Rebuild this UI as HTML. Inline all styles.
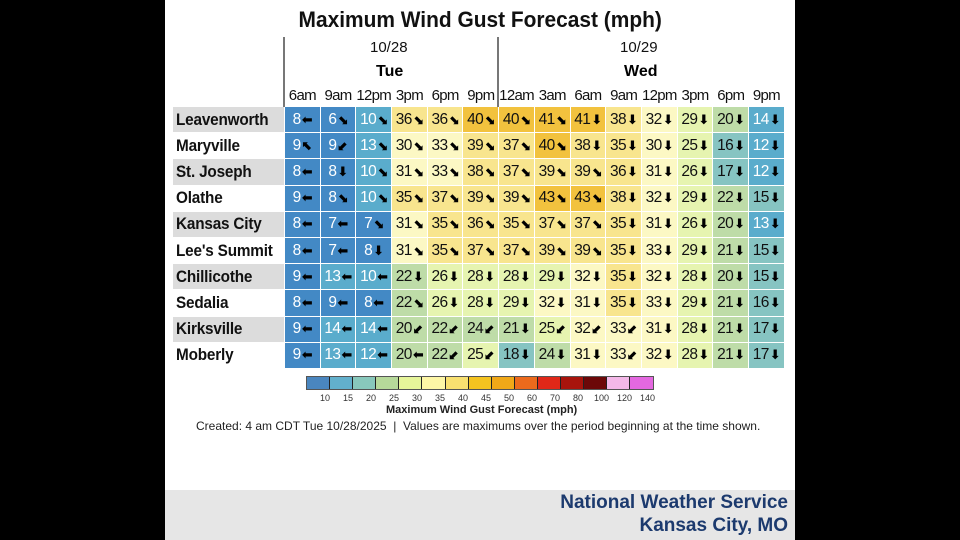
<!DOCTYPE html>
<html><head><meta charset="utf-8"><style>
body{margin:0;background:#000;width:960px;height:540px;overflow:hidden;font-family:"Liberation Sans",sans-serif;}
#p{position:absolute;left:165px;top:0;width:630px;height:540px;background:#fff;}
.a{position:absolute;white-space:nowrap;}
table{position:absolute;left:172px;top:84px;border-collapse:collapse;}
td{height:25.2px;border:1px solid #fff;padding:0;font-size:15.5px;text-align:center;color:#111;width:34.7px;letter-spacing:-0.6px;white-space:nowrap}
td.h{height:21px;font-size:15px;letter-spacing:-0.7px;border-color:transparent;color:#111}
td.n{width:108px;text-align:left;font-weight:bold;font-size:17px;padding-left:3px;letter-spacing:-0.2px}
td.n span{display:inline-block;transform:scaleX(0.9);transform-origin:left center}
td.n.g{background:#dcdcdc}
td i{font-style:normal;font-family:"DejaVu Sans",sans-serif;font-size:13px;color:#000;font-weight:bold;margin-left:1px}
.b1{background:#4389c5;color:#fff}.b2{background:#5aaccc;color:#fff}.b3{background:#86c4c2}
.g1{background:#bedca8}.g2{background:#e6f4b0}.y1{background:#fcf8c4}.y2{background:#f8e58e}.o1{background:#f2c23e}
.hd{font-size:15px;color:#111}
#cb{position:absolute;left:306px;top:376px;height:12px;display:flex;border:1px solid #555}
#cb div{width:23.1px;height:12px;border-right:1px solid #222;box-sizing:border-box}
.ln{z-index:2}
</style></head><body><div id="p"></div>
<div class="a" style="left:0;width:960px;text-align:center;top:7px;font-size:22px;font-weight:bold;color:#111"><span style="display:inline-block;transform:scaleX(0.95)">Maximum Wind Gust Forecast (mph)</span></div>
<div class="a hd" style="left:370px;top:39px">10/28</div>
<div class="a hd" style="left:620px;top:39px">10/29</div>
<div class="a" style="left:376px;top:63px;font-weight:bold;font-size:16px">Tue</div>
<div class="a" style="left:624px;top:63px;font-weight:bold;font-size:16px">Wed</div>
<table>
<tr><td class="h" style="width:111px"></td><td class="h">6am</td><td class="h">9am</td><td class="h">12pm</td><td class="h">3pm</td><td class="h">6pm</td><td class="h">9pm</td><td class="h">12am</td><td class="h">3am</td><td class="h">6am</td><td class="h">9am</td><td class="h">12pm</td><td class="h">3pm</td><td class="h">6pm</td><td class="h">9pm</td></tr>
<tr><td class="n g"><span>Leavenworth</span></td><td class="b1">8<i>⬅</i></td><td class="b1">6<i>⬊</i></td><td class="b2">10<i>⬊</i></td><td class="y2">36<i>⬊</i></td><td class="y2">36<i>⬊</i></td><td class="o1">40<i>⬊</i></td><td class="o1">40<i>⬊</i></td><td class="o1">41<i>⬊</i></td><td class="o1">41<i>⬇</i></td><td class="y2">38<i>⬇</i></td><td class="y1">32<i>⬇</i></td><td class="g2">29<i>⬇</i></td><td class="g1">20<i>⬇</i></td><td class="b2">14<i>⬇</i></td></tr>
<tr><td class="n"><span>Maryville</span></td><td class="b1">9<i>⬉</i></td><td class="b1">9<i>⬋</i></td><td class="b2">13<i>⬊</i></td><td class="y1">30<i>⬊</i></td><td class="y1">33<i>⬊</i></td><td class="y2">39<i>⬊</i></td><td class="y2">37<i>⬊</i></td><td class="o1">40<i>⬊</i></td><td class="y2">38<i>⬇</i></td><td class="y2">35<i>⬇</i></td><td class="y1">30<i>⬇</i></td><td class="g2">25<i>⬇</i></td><td class="b3">16<i>⬇</i></td><td class="b2">12<i>⬇</i></td></tr>
<tr><td class="n g"><span>St. Joseph</span></td><td class="b1">8<i>⬅</i></td><td class="b1">8<i>⬇</i></td><td class="b2">10<i>⬊</i></td><td class="y1">31<i>⬊</i></td><td class="y1">33<i>⬊</i></td><td class="y2">38<i>⬊</i></td><td class="y2">37<i>⬊</i></td><td class="y2">39<i>⬊</i></td><td class="y2">39<i>⬊</i></td><td class="y2">36<i>⬇</i></td><td class="y1">31<i>⬇</i></td><td class="g2">26<i>⬇</i></td><td class="b3">17<i>⬇</i></td><td class="b2">12<i>⬇</i></td></tr>
<tr><td class="n"><span>Olathe</span></td><td class="b1">9<i>⬅</i></td><td class="b1">8<i>⬊</i></td><td class="b2">10<i>⬊</i></td><td class="y2">35<i>⬊</i></td><td class="y2">37<i>⬊</i></td><td class="y2">39<i>⬊</i></td><td class="y2">39<i>⬊</i></td><td class="o1">43<i>⬊</i></td><td class="o1">43<i>⬊</i></td><td class="y2">38<i>⬇</i></td><td class="y1">32<i>⬇</i></td><td class="g2">29<i>⬇</i></td><td class="g1">22<i>⬇</i></td><td class="b3">15<i>⬇</i></td></tr>
<tr><td class="n g"><span>Kansas City</span></td><td class="b1">8<i>⬅</i></td><td class="b1">7<i>⬅</i></td><td class="b1">7<i>⬊</i></td><td class="y1">31<i>⬊</i></td><td class="y2">35<i>⬊</i></td><td class="y2">36<i>⬊</i></td><td class="y2">35<i>⬊</i></td><td class="y2">37<i>⬊</i></td><td class="y2">37<i>⬊</i></td><td class="y2">35<i>⬇</i></td><td class="y1">31<i>⬇</i></td><td class="g2">26<i>⬇</i></td><td class="g1">20<i>⬇</i></td><td class="b2">13<i>⬇</i></td></tr>
<tr><td class="n"><span>Lee's Summit</span></td><td class="b1">8<i>⬅</i></td><td class="b1">7<i>⬅</i></td><td class="b1">8<i>⬇</i></td><td class="y1">31<i>⬊</i></td><td class="y2">35<i>⬊</i></td><td class="y2">37<i>⬊</i></td><td class="y2">37<i>⬊</i></td><td class="y2">39<i>⬊</i></td><td class="y2">39<i>⬊</i></td><td class="y2">35<i>⬇</i></td><td class="y1">33<i>⬇</i></td><td class="g2">29<i>⬇</i></td><td class="g1">21<i>⬇</i></td><td class="b3">15<i>⬇</i></td></tr>
<tr><td class="n g"><span>Chillicothe</span></td><td class="b1">9<i>⬅</i></td><td class="b2">13<i>⬅</i></td><td class="b2">10<i>⬅</i></td><td class="g1">22<i>⬇</i></td><td class="g2">26<i>⬇</i></td><td class="g2">28<i>⬇</i></td><td class="g2">28<i>⬇</i></td><td class="g2">29<i>⬇</i></td><td class="y1">32<i>⬇</i></td><td class="y2">35<i>⬇</i></td><td class="y1">32<i>⬇</i></td><td class="g2">28<i>⬇</i></td><td class="g1">20<i>⬇</i></td><td class="b3">15<i>⬇</i></td></tr>
<tr><td class="n"><span>Sedalia</span></td><td class="b1">8<i>⬅</i></td><td class="b1">9<i>⬅</i></td><td class="b1">8<i>⬅</i></td><td class="g1">22<i>⬊</i></td><td class="g2">26<i>⬇</i></td><td class="g2">28<i>⬇</i></td><td class="g2">29<i>⬇</i></td><td class="y1">32<i>⬇</i></td><td class="y1">31<i>⬇</i></td><td class="y2">35<i>⬇</i></td><td class="y1">33<i>⬇</i></td><td class="g2">29<i>⬇</i></td><td class="g1">21<i>⬇</i></td><td class="b3">16<i>⬇</i></td></tr>
<tr><td class="n g"><span>Kirksville</span></td><td class="b1">9<i>⬅</i></td><td class="b2">14<i>⬅</i></td><td class="b2">14<i>⬅</i></td><td class="g1">20<i>⬋</i></td><td class="g1">22<i>⬋</i></td><td class="g1">24<i>⬋</i></td><td class="g1">21<i>⬇</i></td><td class="g2">25<i>⬋</i></td><td class="y1">32<i>⬋</i></td><td class="y1">33<i>⬋</i></td><td class="y1">31<i>⬇</i></td><td class="g2">28<i>⬇</i></td><td class="g1">21<i>⬇</i></td><td class="b3">17<i>⬇</i></td></tr>
<tr><td class="n"><span>Moberly</span></td><td class="b1">9<i>⬅</i></td><td class="b2">13<i>⬅</i></td><td class="b2">12<i>⬅</i></td><td class="g1">20<i>⬅</i></td><td class="g1">22<i>⬋</i></td><td class="g2">25<i>⬋</i></td><td class="b3">18<i>⬇</i></td><td class="g1">24<i>⬇</i></td><td class="y1">31<i>⬇</i></td><td class="y1">33<i>⬋</i></td><td class="y1">32<i>⬇</i></td><td class="g2">28<i>⬇</i></td><td class="g1">21<i>⬇</i></td><td class="b3">17<i>⬇</i></td></tr>
</table>
<div class="a ln" style="left:283px;top:37px;width:1.5px;height:70px;background:#777"></div>
<div class="a ln" style="left:497px;top:37px;width:1.5px;height:70px;background:#777"></div>
<div id="cb"><div style="background:#4a86bf"></div><div style="background:#62b0cc"></div><div style="background:#88c8bc"></div><div style="background:#b6d99a"></div><div style="background:#e6f59a"></div><div style="background:#fdf6a6"></div><div style="background:#f8e070"></div><div style="background:#f4c320"></div><div style="background:#f0a818"></div><div style="background:#ec6a1c"></div><div style="background:#e02818"></div><div style="background:#a8140c"></div><div style="background:#6c0808"></div><div style="background:#f4b8e8"></div><div style="background:#e468e0;border-right:none"></div></div>
<div class="a" style="left:320px;top:393px;font-size:9px;color:#333;word-spacing:0">
<span style="position:absolute;left:0">10</span><span style="position:absolute;left:23px">15</span><span style="position:absolute;left:46px">20</span><span style="position:absolute;left:69px">25</span><span style="position:absolute;left:92px">30</span><span style="position:absolute;left:115px">35</span><span style="position:absolute;left:138px">40</span><span style="position:absolute;left:161px">45</span><span style="position:absolute;left:184px">50</span><span style="position:absolute;left:207px">60</span><span style="position:absolute;left:230px">70</span><span style="position:absolute;left:253px">80</span><span style="position:absolute;left:274px">100</span><span style="position:absolute;left:297px">120</span><span style="position:absolute;left:320px">140</span></div>
<div class="a" style="left:386px;top:404px;font-size:11px;font-weight:bold;color:#222">Maximum Wind Gust Forecast (mph)</div>
<div class="a" style="left:196px;top:419px;font-size:12px;color:#222">Created: 4 am CDT Tue 10/28/2025&nbsp; | &nbsp;Values are maximums over the period beginning at the time shown.</div>
<div class="a" style="left:165px;top:490px;width:630px;height:50px;background:#e6e6e6"></div>
<div class="a" style="right:172px;top:491px;font-size:19px;font-weight:bold;color:#1c3a6e;text-align:right;line-height:23px">National Weather Service<br>Kansas City, MO</div>
</body></html>
